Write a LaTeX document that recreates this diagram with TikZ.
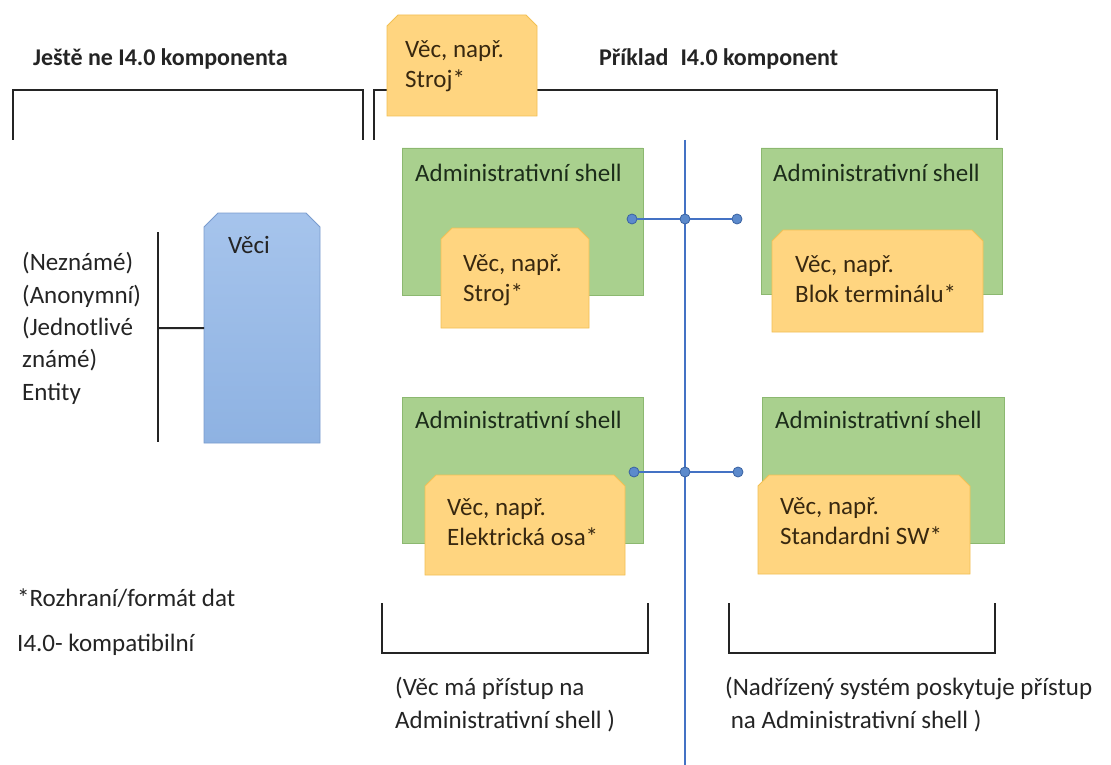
\documentclass[tikz,border=0pt]{standalone}
\usepackage{fontspec}
\setmainfont{Carlito}
\definecolor{orangeF}{RGB}{255,213,128}
\definecolor{orangeD}{RGB}{242,192,84}
\definecolor{greenF}{RGB}{169,208,142}
\definecolor{greenD}{RGB}{140,184,112}
\definecolor{blueT}{RGB}{166,196,236}
\definecolor{blueB}{RGB}{142,178,226}
\definecolor{blueD}{RGB}{122,156,206}
\definecolor{lineB}{RGB}{68,114,196}
\definecolor{dotF}{RGB}{92,138,204}
\definecolor{dotD}{RGB}{58,98,162}
\definecolor{txtc}{RGB}{36,36,36}
\definecolor{greentxt}{RGB}{28,44,26}
\definecolor{orangetxt}{RGB}{56,40,16}
\newcommand{\chbox}[7]{%
  \path[#2] (#3,#6) -- (#3,#4+#7) -- (#3+#7,#4) -- (#5-#7,#4) -- (#5,#4+#7) -- (#5,#6) -- cycle;
  \node[inner sep=0pt, minimum width=#5-#3, minimum height=#6-#4, anchor=north west] (#1) at (#3,#4) {};}
\begin{document}
\begin{tikzpicture}[x=1pt,y=-1pt,
  txt/.style={anchor=base west, inner sep=0pt, align=left, text=txtc, font=\fontsize{25}{32.3}\selectfont},
  head/.style={anchor=base west, inner sep=0pt, text=txtc, font=\fontsize{24}{29}\selectfont\bfseries},
  otxt/.style={anchor=base west, inner sep=0pt, align=left, text=orangetxt, font=\fontsize{25}{30}\selectfont},
  gtxt/.style={anchor=base west, inner sep=0pt, text=greentxt, font=\fontsize{25}{30}\selectfont},
  btxt/.style={anchor=base west, inner sep=0pt, align=left, text=txtc, font=\fontsize{25}{33}\selectfont},
  brk/.style={draw=txtc, line width=2pt},
  bus/.style={draw=lineB, line width=2pt},
  dot/.style={circle, fill=dotF, draw=dotD, line width=0.8pt, minimum size=10pt, inner sep=0pt},
  obox/.style={fill=orangeF, draw=orangeD, line width=0.8pt},
  gbox/.style={fill=greenF, draw=greenD, line width=0.8pt},
  bbox/.style={top color=blueT, bottom color=blueB, draw=blueD, line width=0.8pt}
]
\useasboundingbox (0,0) rectangle (1111,765);
\fill[white] (0,0) rectangle (1111,765);

% headers
\node[head] (h1) at (33,66) {Ještě ne I4.0 komponenta};
\node[head] (h2) at (599,66) {Příklad\hspace{0.5em}I4.0 komponent};

% top brackets
\coordinate (lb1) at (13,140); \coordinate (lb2) at (13,90);
\coordinate (lb3) at (363,90); \coordinate (lb4) at (363,140);
\draw[brk] (lb1) -- (lb2) -- (lb3) -- (lb4);
\coordinate (rb1) at (374,140); \coordinate (rb2) at (374,90);
\coordinate (rb3) at (997,90); \coordinate (rb4) at (997,140);
\draw[brk] (rb1) -- (rb2) -- (rb3) -- (rb4);

% top orange box (multi-line nodes: base = last line)
\chbox{otop}{obox}{387}{15}{537}{116}{11}
\node[otxt] (otopt) at (405,88) {Věc, např.\\Stroj*};

% bus line
\coordinate (bustop) at (685,140);
\coordinate (busbot) at (685,765);
\draw[bus] (bustop) -- (busbot);

% green boxes
\chbox{g1}{gbox}{402}{148}{643}{295}{0}
\chbox{g2}{gbox}{761}{148}{1002}{294}{0}
\chbox{g3}{gbox}{402}{397}{643}{543}{0}
\chbox{g4}{gbox}{762}{397}{1004}{543}{0}
\node[gtxt] (g1t) at (415,181) {Administrativní shell};
\node[gtxt] (g2t) at (773,181) {Administrativní shell};
\node[gtxt] (g3t) at (415,428) {Administrativní shell};
\node[gtxt] (g4t) at (775,428) {Administrativní shell};

% orange boxes
\chbox{o1}{obox}{441}{228}{589}{328}{11}
\chbox{o2}{obox}{772}{230}{983}{332}{11}
\chbox{o3}{obox}{425}{475}{625}{575}{11}
\chbox{o4}{obox}{758}{475}{970}{574}{11}
\node[otxt] (o1t) at (463,301) {Věc, např.\\Stroj*};
\node[otxt] (o2t) at (795,302) {Věc, např.\\Blok terminálu*};
\node[otxt] (o3t) at (447,545) {Věc, např.\\Elektrická osa*};
\node[otxt] (o4t) at (780,544) {Věc, např.\\Standardni SW*};

% connectors
\node[dot] (d1l) at (632,219) {};
\node[dot] (d1c) at (685,219) {};
\node[dot] (d1r) at (737,219) {};
\node[dot] (d2l) at (634,472) {};
\node[dot] (d2c) at (685,472) {};
\node[dot] (d2r) at (738,472) {};
\draw[bus] (d1l) -- (d1c) -- (d1r);
\draw[bus] (d2l) -- (d2c) -- (d2r);

% left part
\chbox{veci}{bbox}{204}{213}{320}{443}{14}
\node[gtxt, text=txtc] (vecit) at (228,253) {Věci};
\coordinate (lbar1) at (158,232);
\coordinate (lbar2) at (158,442);
\coordinate (lbarm) at (158,328);
\draw[brk] (lbar1) -- (lbar2);
\draw[brk] (lbarm) -- (veci.west);
\node[txt] (ent) at (22,400) {(Neznámé)\\(Anonymní)\\(Jednotlivé\\známé)\\Entity};

% footnote
\node[txt] (fn1) at (17,606) {*Rozhraní/formát dat};
\node[txt] (fn2) at (17,651) {I4.0- kompatibilní};

% bottom brackets
\coordinate (bl1) at (382,603); \coordinate (bl2) at (382,653);
\coordinate (bl3) at (648,653); \coordinate (bl4) at (648,603);
\draw[brk] (bl1) -- (bl2) -- (bl3) -- (bl4);
\coordinate (br1) at (729,603); \coordinate (br2) at (729,653);
\coordinate (br3) at (995,653); \coordinate (br4) at (995,603);
\draw[brk] (br1) -- (br2) -- (br3) -- (br4);
\node[btxt] (bt1) at (395,728) {(Věc má přístup na\\Administrativní shell )};
\node[btxt] (bt2) at (725,728) {(Nadřízený systém poskytuje přístup\\\ na Administrativní shell )};
\end{tikzpicture}
\end{document}
